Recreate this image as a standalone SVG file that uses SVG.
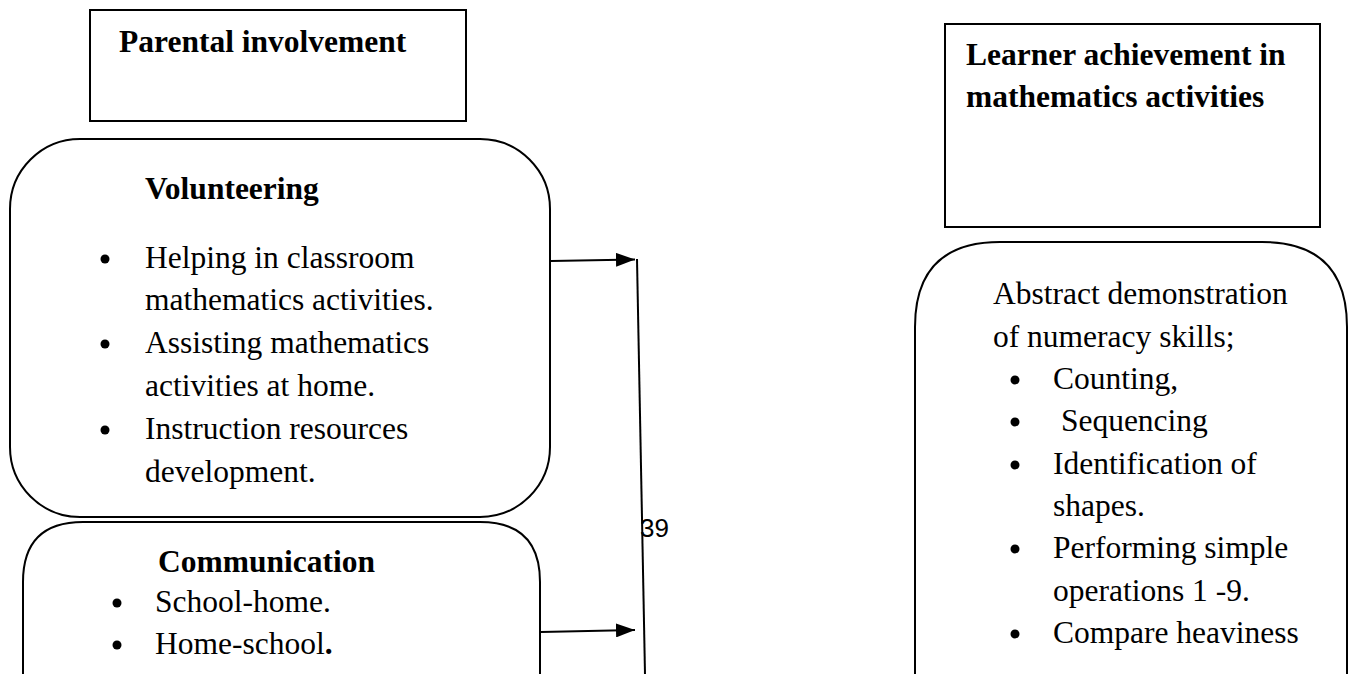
<svg xmlns="http://www.w3.org/2000/svg" width="1354" height="674" viewBox="0 0 1354 674">
<style>
.box{fill:#fff;stroke:#000;stroke-width:2}
.t{font-family:"Liberation Serif","Times New Roman",serif;fill:#000;font-size:31.5px}
.h{font-weight:bold}
.bul{fill:#000}
.ln{stroke:#000;stroke-width:2;fill:none}
.pg{font-family:"Liberation Sans",Arial,sans-serif;font-size:26px;fill:#000}
</style>
<defs>
<marker id="ah" markerWidth="19" markerHeight="14" refX="19" refY="7" orient="auto" markerUnits="userSpaceOnUse" viewBox="0 0 19 14">
<path d="M0,0 L19,7 L0,14 Z" fill="#000"/>
</marker>
</defs>
<rect width="1354" height="674" fill="#fff"/>
<g id="parental">
<rect class="box" x="90" y="10" width="376" height="111"/>
<text class="t h" x="119" y="52">Parental involvement</text>
</g>
<g id="volunteering">
<rect class="box" x="10" y="139" width="540" height="378" rx="70" ry="70"/>
<text class="t h" x="145" y="199">Volunteering</text>
<circle class="bul" cx="105" cy="259" r="4.5"/>
<text class="t" x="145" y="268">Helping in classroom</text>
<text class="t" x="145" y="310">mathematics activities.</text>
<circle class="bul" cx="105" cy="344" r="4.5"/>
<text class="t" x="145" y="353">Assisting mathematics</text>
<text class="t" x="145" y="396">activities at home.</text>
<circle class="bul" cx="105" cy="430" r="4.5"/>
<text class="t" x="145" y="439">Instruction resources</text>
<text class="t" x="145" y="482">development.</text>
</g>
<g id="communication">
<path class="box" d="M23,700 L23,582 Q23,522 83,522 L480,522 Q540,522 540,582 L540,700"/>
<text class="t h" x="158" y="572">Communication</text>
<circle class="bul" cx="117" cy="603" r="4.5"/>
<text class="t" x="155" y="612">School-home.</text>
<circle class="bul" cx="117" cy="645" r="4.5"/>
<text class="t" x="155" y="654">Home-school<tspan font-weight="bold">.</tspan></text>
</g>
<g id="learner">
<rect class="box" x="945" y="24" width="375" height="203"/>
<text class="t h" x="966" y="65">Learner achievement in</text>
<text class="t h" x="966" y="107">mathematics activities</text>
</g>
<g id="outcomes">
<path class="box" d="M915,700 L915,327 Q915,242 1000,242 L1262,242 Q1347,242 1347,327 L1347,700"/>
<text class="t" x="993" y="304">Abstract demonstration</text>
<text class="t" x="993" y="347">of numeracy skills;</text>
<circle class="bul" cx="1015" cy="380" r="4.5"/>
<text class="t" x="1053" y="389">Counting,</text>
<circle class="bul" cx="1015" cy="422" r="4.5"/>
<text class="t" x="1053" y="431" xml:space="preserve"> Sequencing</text>
<circle class="bul" cx="1015" cy="465" r="4.5"/>
<text class="t" x="1053" y="474">Identification of</text>
<text class="t" x="1053" y="516">shapes.</text>
<circle class="bul" cx="1015" cy="549" r="4.5"/>
<text class="t" x="1053" y="558">Performing simple</text>
<text class="t" x="1053" y="601">operations 1 -9.</text>
<circle class="bul" cx="1015" cy="634" r="4.5"/>
<text class="t" x="1053" y="643">Compare heaviness</text>
</g>
<g id="connectors">
<line class="ln" x1="551" y1="261" x2="635" y2="259.5" marker-end="url(#ah)"/>
<line class="ln" x1="541" y1="632" x2="635" y2="630" marker-end="url(#ah)"/>
<line class="ln" x1="637" y1="259" x2="645" y2="674"/>
</g>
<text class="pg" x="640" y="537">39</text>
</svg>
